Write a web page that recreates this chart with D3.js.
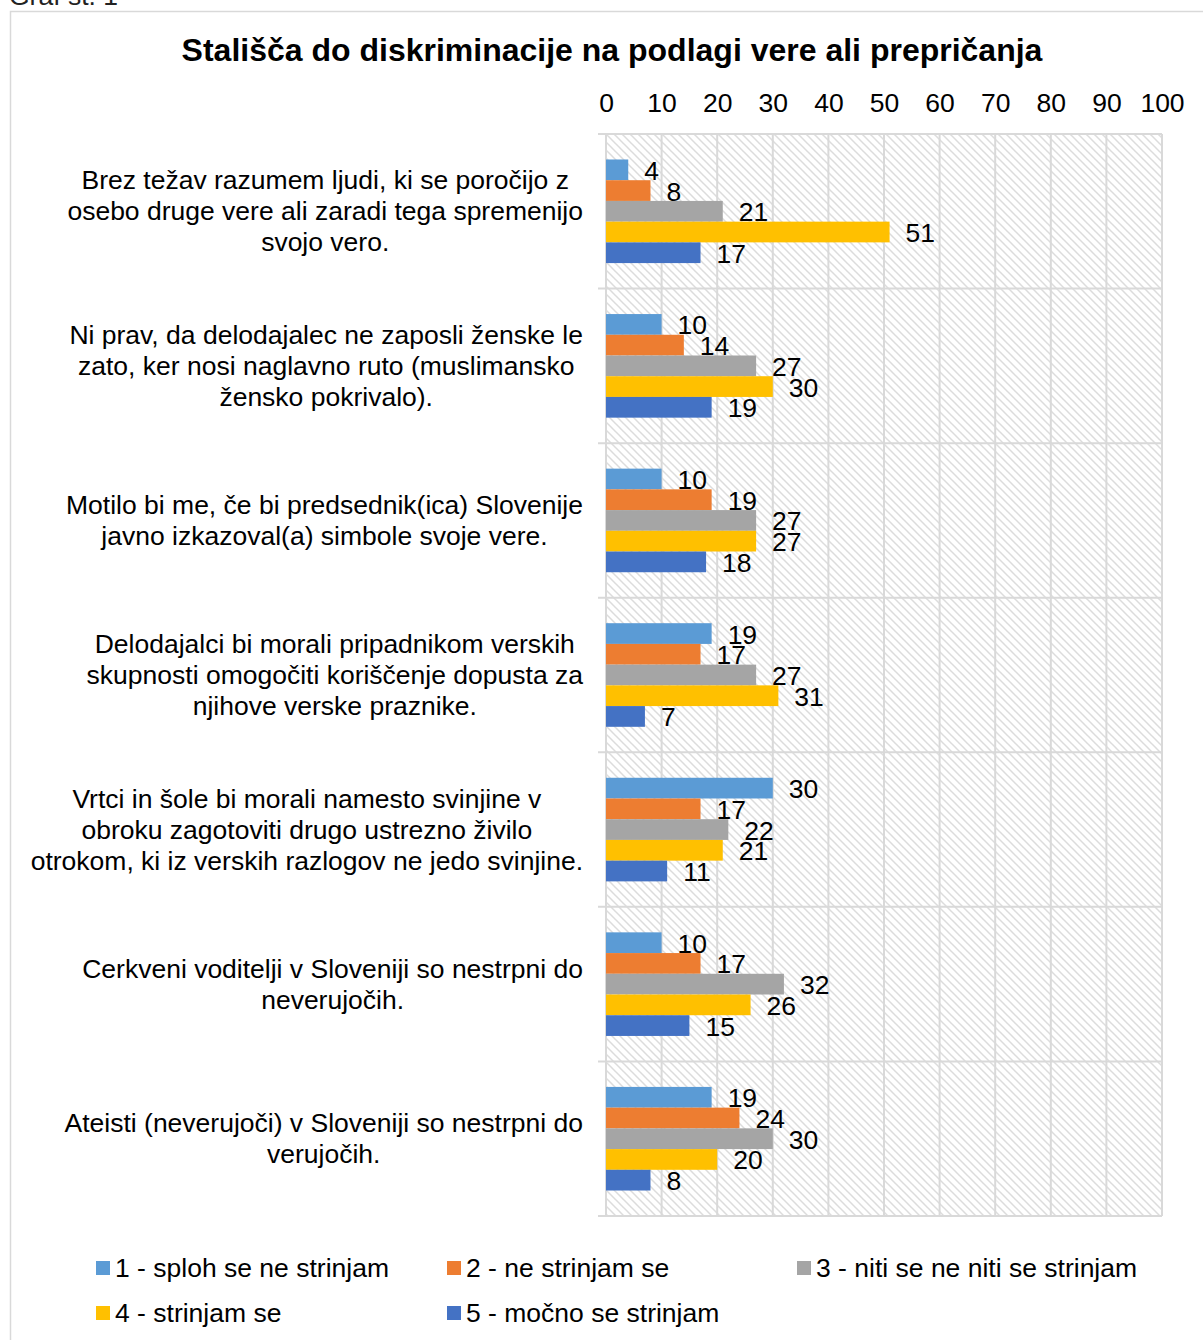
<!DOCTYPE html>
<html>
<head>
<meta charset="utf-8">
<script src="https://cdn.jsdelivr.net/npm/d3@7/dist/d3.min.js"></script>
<style>
  html, body { margin: 0; padding: 0; background: #fff; }
  svg { display: block; font-family: "Liberation Sans", Arial, sans-serif; }
  svg text { font-family: "Liberation Sans", Arial, sans-serif; }
</style>
</head>
<body>
<svg id="chart" width="1203" height="1340"></svg>
<script>
const categories = [
  "Brez težav razumem ljudi, ki se poročijo z\nosebo druge vere ali zaradi tega spremenijo\nsvojo vero.",
  "Ni prav, da delodajalec ne zaposli ženske le\nzato, ker nosi naglavno ruto (muslimansko\nžensko pokrivalo).",
  "Motilo bi me, če bi predsednik(ica) Slovenije\njavno izkazoval(a) simbole svoje vere.",
  "Delodajalci bi morali pripadnikom verskih\nskupnosti omogočiti koriščenje dopusta za\nnjihove verske praznike.",
  "Vrtci in šole bi morali namesto svinjine v\nobroku zagotoviti drugo ustrezno živilo\notrokom, ki iz verskih razlogov ne jedo svinjine.",
  "Cerkveni voditelji v Sloveniji so nestrpni do\nneverujočih.",
  "Ateisti (neverujoči) v Sloveniji so nestrpni do\nverujočih."
];
const seriesNames = [
  "1 - sploh se ne strinjam",
  "2 - ne strinjam se",
  "3 - niti se ne niti se strinjam",
  "4 - strinjam se",
  "5 - močno se strinjam"
];
const s1 = [4, 10, 10, 19, 30, 10, 19];
const s2 = [8, 14, 19, 17, 17, 17, 24];
const s3 = [21, 27, 27, 27, 22, 32, 30];
const s4 = [51, 30, 27, 31, 21, 26, 20];
const s5 = [17, 19, 18, 7, 11, 15, 8];
const seriesValues = [s1, s2, s3, s4, s5];
const colors = ["#5B9BD5", "#ED7D31", "#A5A5A5", "#FFC000", "#4472C4"];
const xTicks = [0, 10, 20, 30, 40, 50, 60, 70, 80, 90, 100];
const title = "Stališča do diskriminacije na podlagi vere ali prepričanja";
const caption = "Graf št. 1";

const FS = 26.5;
const svg = d3.select("#chart");
const plot = { left: 606, right: 1162, top: 134, bottom: 1216 };

// hatch pattern
const defs = svg.append("defs");
const pat = defs.append("pattern")
  .attr("id", "hatch").attr("patternUnits", "userSpaceOnUse")
  .attr("width", 8).attr("height", 8);
pat.append("path").attr("d", "M-1,-1 L9,9 M-1,7 L1,9 M7,-1 L9,1")
  .attr("stroke", "#dcdcdc").attr("stroke-width", 1.5);

// outer frame
svg.append("rect").attr("x", 10.5).attr("y", 11.5).attr("width", 1220).attr("height", 1360)
  .attr("fill", "none").attr("stroke", "#d9d9d9").attr("stroke-width", 1.5);

svg.append("text").attr("x", 9).attr("y", 5).attr("font-size", FS).attr("fill", "#222").text(caption);

svg.append("text").attr("x", 612).attr("y", 61).attr("text-anchor", "middle")
  .attr("font-size", 32).attr("font-weight", "bold").attr("fill", "#000").text(title);

const x = d3.scaleLinear().domain([0, 100]).range([plot.left, plot.right]);
const y0 = d3.scaleBand().domain(d3.range(categories.length)).range([plot.top, plot.bottom]).padding(0);
const y1 = d3.scaleBand().domain(d3.range(seriesNames.length)).range([0, y0.bandwidth()])
  .paddingInner(0).paddingOuter(1.23);

// background hatch
svg.append("rect").attr("x", plot.left).attr("y", plot.top)
  .attr("width", plot.right - plot.left).attr("height", plot.bottom - plot.top)
  .attr("fill", "url(#hatch)");

// vertical gridlines
svg.append("g").selectAll("line").data(xTicks).join("line")
  .attr("x1", d => x(d)).attr("x2", d => x(d))
  .attr("y1", plot.top).attr("y2", plot.bottom)
  .attr("stroke", "#d9d9d9").attr("stroke-width", 2);

// horizontal category boundaries
const bounds = d3.range(categories.length + 1).map(i => plot.top + i * y0.step());
svg.append("g").selectAll("line").data(bounds).join("line")
  .attr("x1", plot.left - 8).attr("x2", plot.right)
  .attr("y1", d => d).attr("y2", d => d)
  .attr("stroke", "#d9d9d9").attr("stroke-width", 2);

// top axis labels
const xAxis = d3.axisTop(x).tickValues(xTicks).tickSize(0).tickPadding(0);
const gx = svg.append("g").attr("transform", `translate(0,${112})`).call(xAxis);
gx.select(".domain").remove();
gx.attr("font-family", null).attr("font-size", null);
gx.selectAll("text").attr("font-size", FS).attr("fill", "#000");

// bars
const groups = svg.append("g").selectAll("g").data(categories).join("g")
  .attr("transform", (d, i) => `translate(0,${y0(i)})`);
groups.each(function (c, ci) {
  const g = d3.select(this);
  const rows = seriesValues.map((arr, si) => ({ si, v: arr[ci] }));
  g.selectAll("rect").data(rows).join("rect")
    .attr("x", x(0)).attr("y", d => y1(d.si))
    .attr("width", d => x(d.v) - x(0)).attr("height", y1.bandwidth())
    .attr("fill", d => colors[d.si]);
  g.selectAll("text.val").data(rows).join("text").attr("class", "val")
    .attr("x", d => x(d.v) + 16).attr("y", d => y1(d.si) + y1.bandwidth() / 2 + 10)
    .attr("font-size", FS).attr("fill", "#000").text(d => d.v);
});

// category labels
const lineH = 31;
categories.forEach((c, i) => {
  const lines = c.split("\n");
  const t = svg.append("text").attr("font-size", FS).attr("fill", "#000").attr("text-anchor", "middle");
  const cy = y0(i) + y0.bandwidth() / 2;
  const startY = cy - (lines.length - 1) * lineH / 2 + 9;
  const spans = lines.map((l, k) => t.append("tspan").attr("y", startY + k * lineH).text(l));
  const maxW = d3.max(spans, s => s.node().getComputedTextLength());
  const cx = 583 - maxW / 2;
  spans.forEach(s => s.attr("x", cx));
});

// legend
const legendPos = [[96, 1268], [447, 1268], [797, 1268], [96, 1313], [447, 1313]];
seriesNames.forEach((n, i) => {
  const [lx, ly] = legendPos[i];
  svg.append("rect").attr("x", lx).attr("y", ly - 7).attr("width", 14).attr("height", 14).attr("fill", colors[i]);
  svg.append("text").attr("x", lx + 19).attr("y", ly + 9).attr("font-size", FS).attr("fill", "#000").text(n);
});
</script>
</body>
</html>
